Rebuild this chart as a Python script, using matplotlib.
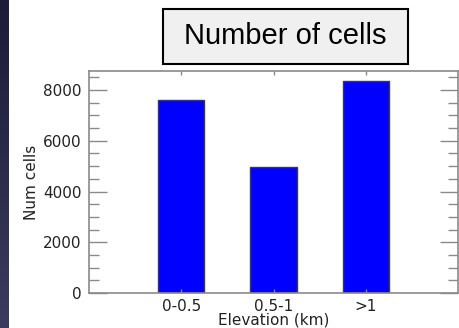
import numpy as np
import matplotlib
matplotlib.use("Agg")
import matplotlib.pyplot as plt
from matplotlib.patches import Rectangle
from matplotlib.ticker import MultipleLocator

plt.rcParams['font.family'] = ['DejaVu Sans']

# cells per elevation band
categories = ["0-0.5", "0.5-1", ">1"]
num_cells = [7600, 4950, 8350]

fig = plt.figure(figsize=(4.59, 3.28), dpi=100)
fig.patch.set_facecolor("white")

# dark slide edge on the left
strip = fig.add_axes([0, 0, 9 / 459, 1])
grad = np.linspace(0, 1, 256).reshape(-1, 1)
cmap = matplotlib.colors.LinearSegmentedColormap.from_list("edge", ["#1c1b38", "#3b3b5e"])
strip.imshow(grad, aspect="auto", cmap=cmap, extent=[0, 1, 1, 0])
strip.set_axis_off()

ax = fig.add_axes([89 / 459, 35 / 328, 369 / 459, 222 / 328])
x = np.arange(len(categories))
ax.bar(x, num_cells, width=0.5, color="#0000ff", edgecolor="#3a3a4a", linewidth=1.0)

ax.set_xlim(-1, 3)
ax.set_ylim(0, 8750)
ax.set_xticks(x)
ax.set_xticklabels(categories)
ax.yaxis.set_major_locator(MultipleLocator(2000))
ax.yaxis.set_minor_locator(MultipleLocator(500))

for sp in ax.spines.values():
    sp.set_color("#8a8a8a")
    sp.set_linewidth(1.2)

ax.tick_params(axis="y", which="major", direction="in", length=13, width=1.0,
               color="#8a8a8a", left=True, right=True, labelsize=11,
               labelcolor="#222222", pad=5.5)
ax.tick_params(axis="y", which="minor", direction="in", length=7, width=1.0,
               color="#8a8a8a", left=True, right=True)
ax.tick_params(axis="x", which="major", direction="in", length=3, width=1.0,
               color="#8a8a8a", top=True, bottom=True, labelsize=11,
               labelcolor="#222222", pad=4)

ax.set_ylabel("Num cells", fontsize=11, color="#222222", labelpad=3)
ax.set_xlabel("Elevation (km)", fontsize=11, color="#222222", labelpad=-1)

# boxed heading above the plot
box = Rectangle((163 / 459, 1 - 64 / 328), 245 / 459, 55 / 328,
                transform=fig.transFigure, facecolor="#f0f0f0",
                edgecolor="black", linewidth=1.5, zorder=5)
fig.patches.append(box)
fig.text(285.5 / 459, 1 - 36.5 / 328, "Number of cells", ha="center", va="center",
         fontsize=21, family="Liberation Sans", color="black", zorder=6)

fig.savefig("out.png", dpi=100)
